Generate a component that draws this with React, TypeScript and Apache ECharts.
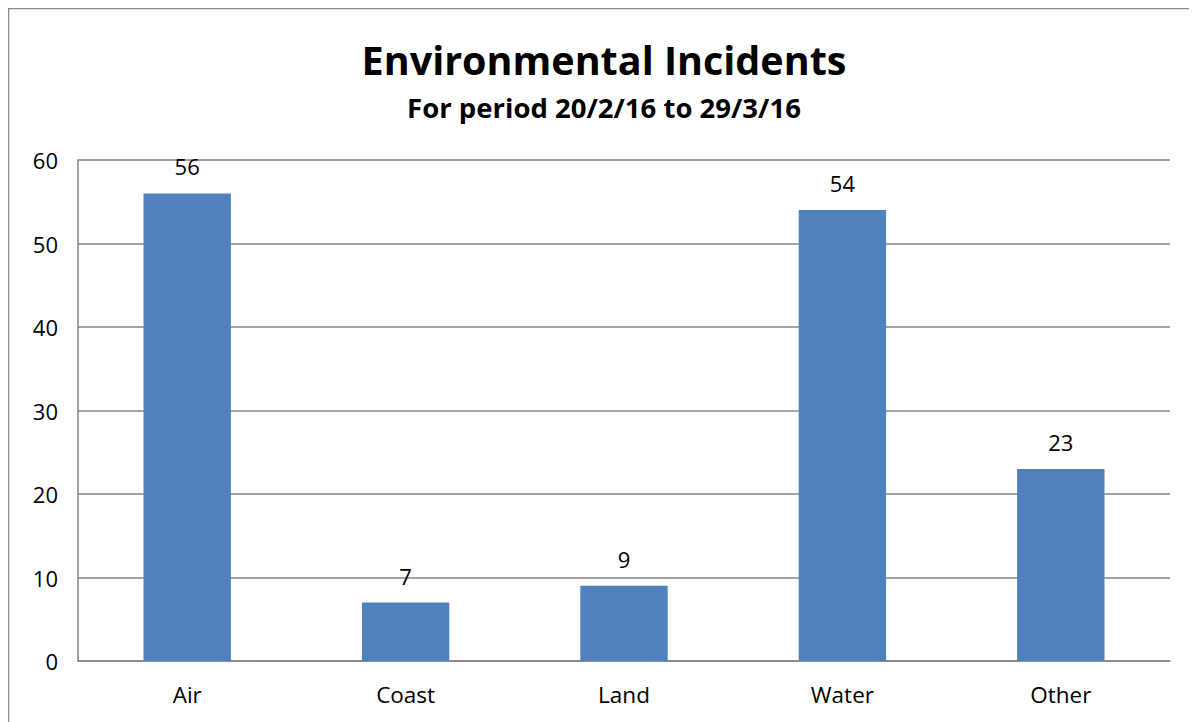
import React, { useEffect, useRef } from "react";
import * as echarts from "echarts";

const categories = ["Air", "Coast", "Land", "Water", "Other"];
const incidents = [56, 7, 9, 54, 23];
const titleText = "Environmental Incidents";
const subtitleText = "For period 20/2/16 to 29/3/16";

export default function App() {
  const ref = useRef<HTMLDivElement>(null);
  useEffect(() => {
    if (!ref.current) return;
    const chart = echarts.init(ref.current, undefined, { renderer: "svg" });
    const font = "'Open Sans', Lato, sans-serif";
    chart.setOption({
      animation: false,
      backgroundColor: "#ffffff",
      graphic: [
        {
          type: "rect",
          shape: { x: 0.5, y: 0.5, width: 1300, height: 900 },
          style: { fill: "none", stroke: "#8c8c8c", lineWidth: 1.5 },
          silent: true,
        },
        {
          type: "text",
          x: 596,
          y: 52,
          style: {
            text: titleText,
            font: `bold 39.5px ${font}`,
            fill: "#000",
            textAlign: "center",
            textVerticalAlign: "middle",
          },
        },
        {
          type: "text",
          x: 596,
          y: 99,
          style: {
            text: subtitleText,
            font: `bold 27.5px ${font}`,
            fill: "#000",
            textAlign: "center",
            textVerticalAlign: "middle",
          },
        },
      ],
      grid: { left: 70, right: 27, top: 152, bottom: 61, containLabel: false },
      xAxis: {
        type: "category",
        data: categories,
        axisLine: { show: true, lineStyle: { color: "#868686", width: 1.5 } },
        axisTick: { show: false },
        axisLabel: { color: "#000", fontSize: 22.5, fontFamily: font, margin: 22 },
      },
      yAxis: {
        type: "value",
        min: 0,
        max: 60,
        interval: 10,
        axisLine: { show: true, lineStyle: { color: "#868686", width: 1.5 } },
        axisTick: { show: false },
        axisLabel: { color: "#000", fontSize: 22, fontFamily: font, margin: 20 },
        splitLine: { lineStyle: { color: "#868686", width: 1.5 } },
      },
      series: [
        {
          type: "bar",
          data: incidents,
          barWidth: "40%",
          itemStyle: { color: "#4F81BD" },
          label: {
            show: true,
            position: "top",
            distance: 16,
            color: "#000",
            fontSize: 22,
            fontFamily: font,
          },
        },
      ],
    });
    return () => chart.dispose();
  }, []);
  return <div ref={ref} style={{ width: 1189, height: 714 }} />;
}
